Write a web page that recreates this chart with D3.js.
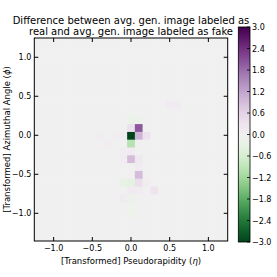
<!DOCTYPE html>
<html>
<head>
<meta charset="utf-8">
<script src="https://cdn.jsdelivr.net/npm/d3@7"></script>
<style>
  body { margin: 0; background: #fff; }
  svg { display: block; font-family: "DejaVu Sans", sans-serif; }
</style>
</head>
<body>
<svg id="chart" width="277" height="277"></svg>
<script>
// bin centres (data units) of the image grid
var binX = d3.range(-12, 13).map(function(i) { return i / 10 })
var binY = d3.range(-13, 13).map(function(i) { return i / 10 })

// cells that differ visibly from zero (x, y, value)
var cellX = [0.0, 0.1, 0.1, 0.2, 0.0, 0.0, 0.0, 0.1, 0.0, 0.1, 0.0, 0.1, 0.1, 0.0, -0.1, 0.3, 0.0, 0.1, -0.1, 0.0, 0.0, 0.0, 0.5, 0.6, -0.2, -0.3, -0.1, 0.2, 0.1, -0.1, 0.0, -0.1, 0.2, -0.4]
var cellY = [0.0, 0.1, 0.0, 0.0, 0.1, -0.1, -0.3, -0.5, -0.6, -0.6, 0.2, 0.2, -0.3, -0.2, -0.6, -0.7, -0.7, -0.7, -0.8, -0.8, -0.9, -1.0, 0.4, 0.4, 0.0, -0.1, -0.3, 0.1, -0.4, -0.2, 0.3, 0.0, -0.6, 0.0]
var cellValue = [-3.0, 2.0, 1.0, 0.35, 0.35, -1.0, 0.9, 0.9, -0.35, 0.4, -0.2, -0.2, 0.2, 0.15, -0.3, 0.3, 0.15, 0.15, 0.15, -0.15, -0.12, -0.2, 0.15, 0.15, 0.12, 0.12, 0.12, -0.1, 0.15, 0.12, -0.1, 0.1, 0.12, 0.1]

var xTicks = [-1.0, -0.5, 0.0, 0.5, 1.0]
var yTicks = [-1.0, -0.5, 0.0, 0.5, 1.0]
var cbarTicks = [-3.0, -2.4, -1.8, -1.2, -0.6, 0.0, 0.6, 1.2, 1.8, 2.4, 3.0]

var svg = d3.select('#chart')
var plotL = 34.3, plotR = 227.7, plotT = 38, plotB = 241

var x = d3.scaleLinear().domain([-1.25, 1.25]).range([plotL, plotR])
var y = d3.scaleLinear().domain([-1.355, 1.247]).range([plotB, plotT])
var color = function(v) { return d3.interpolatePRGn((3 - v) / 6) }
var fmt = function(d) { return d3.format('.1f')(d).replace('-', '\u2212') }

// grid of values
var grid = []
binY.forEach(function(yy) {
  binX.forEach(function(xx) { grid.push({ x: xx, y: yy, v: 0 }) })
})
cellX.forEach(function(cx, i) {
  var g = grid.find(function(d) { return Math.abs(d.x - cx) < 1e-6 && Math.abs(d.y - cellY[i]) < 1e-6 })
  if (g) g.v = cellValue[i]
})

svg.append('clipPath').attr('id', 'clip').append('rect')
  .attr('x', plotL).attr('y', plotT).attr('width', plotR - plotL).attr('height', plotB - plotT)

svg.append('g').attr('clip-path', 'url(#clip)')
  .selectAll('rect').data(grid).enter().append('rect')
  .attr('x', function(d) { return x(d.x - 0.05) })
  .attr('y', function(d) { return y(d.y + 0.05) })
  .attr('width', function(d) { return x(d.x + 0.05) - x(d.x - 0.05) + 0.5 })
  .attr('height', function(d) { return y(d.y - 0.05) - y(d.y + 0.05) + 0.5 })
  .attr('fill', function(d) { return color(d.v) })

// frame and inward ticks
var axes = svg.append('g').attr('stroke', '#000').attr('stroke-width', 1)
axes.append('rect').attr('x', plotL).attr('y', plotT).attr('width', plotR - plotL).attr('height', plotB - plotT)
  .attr('fill', 'none')
xTicks.forEach(function(t) {
  axes.append('line').attr('x1', x(t)).attr('x2', x(t)).attr('y1', plotB).attr('y2', plotB - 4)
  axes.append('line').attr('x1', x(t)).attr('x2', x(t)).attr('y1', plotT).attr('y2', plotT + 4)
})
yTicks.forEach(function(t) {
  axes.append('line').attr('y1', y(t)).attr('y2', y(t)).attr('x1', plotL).attr('x2', plotL + 4)
  axes.append('line').attr('y1', y(t)).attr('y2', y(t)).attr('x1', plotR).attr('x2', plotR - 4)
})

svg.append('g').selectAll('text').data(xTicks).enter().append('text')
  .attr('x', function(d) { return x(d) }).attr('y', plotB + 10)
  .attr('text-anchor', 'middle').attr('font-size', 8).text(fmt)
svg.append('g').selectAll('text').data(yTicks).enter().append('text')
  .attr('x', plotL - 3).attr('y', function(d) { return y(d) + 3 })
  .attr('text-anchor', 'end').attr('font-size', 8).text(fmt)

var xl = svg.append('text').attr('x', (plotL + plotR) / 2).attr('y', plotB + 23)
  .attr('text-anchor', 'middle').attr('font-size', 8.5)
xl.append('tspan').text('[Transformed] Pseudorapidity (')
xl.append('tspan').attr('font-style', 'italic').text('\u03b7')
xl.append('tspan').text(')')

var yl = svg.append('text').attr('transform', 'translate(10,' + (plotT + plotB) / 2 + ') rotate(-90)')
  .attr('text-anchor', 'middle').attr('font-size', 8.5)
yl.append('tspan').text('[Transformed] Azimuthal Angle (')
yl.append('tspan').attr('font-style', 'italic').text('\u03d5')
yl.append('tspan').text(')')

svg.append('text').attr('x', (plotL + plotR) / 2).attr('y', 24).attr('text-anchor', 'middle')
  .attr('font-size', 10).text('Difference between avg. gen. image labeled as')
svg.append('text').attr('x', (plotL + plotR) / 2).attr('y', 35).attr('text-anchor', 'middle')
  .attr('font-size', 10).text('real and avg. gen. image labeled as fake')

// colorbar
var cbLeft = 238.3, cbRight = 250, cbTop = 27, cbBottom = 242
var cy = d3.scaleLinear().domain([-3, 3]).range([cbBottom, cbTop])
var grad = svg.append('defs').append('linearGradient').attr('id', 'cbgrad')
  .attr('x1', 0).attr('y1', 1).attr('x2', 0).attr('y2', 0)
d3.range(0, 1.0001, 0.05).forEach(function(t) {
  grad.append('stop').attr('offset', t).attr('stop-color', color(-3 + 6 * t))
})
svg.append('rect').attr('x', cbLeft).attr('y', cbTop).attr('width', cbRight - cbLeft).attr('height', cbBottom - cbTop)
  .attr('fill', 'url(#cbgrad)').attr('stroke', '#000').attr('stroke-width', 0.8)
var cb = svg.append('g')
cbarTicks.forEach(function(t) {
  cb.append('line').attr('x1', cbRight - 3).attr('x2', cbRight).attr('y1', cy(t)).attr('y2', cy(t))
    .attr('stroke', '#000').attr('stroke-width', 0.8)
  cb.append('text').attr('x', cbRight + 2).attr('y', cy(t) + 3).attr('font-size', 8).text(fmt(t))
})
</script>
</body>
</html>
